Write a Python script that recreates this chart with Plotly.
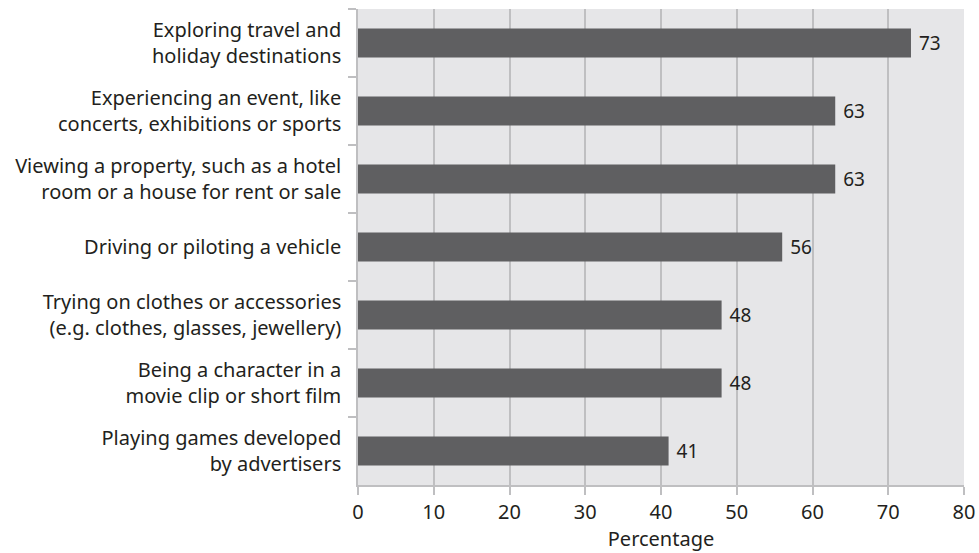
import plotly.graph_objects as go

categories = [
    "Exploring travel and<br>holiday destinations",
    "Experiencing an event, like<br>concerts, exhibitions or sports",
    "Viewing a property, such as a hotel<br>room or a house for rent or sale",
    "Driving or piloting a vehicle",
    "Trying on clothes or accessories<br>(e.g. clothes, glasses, jewellery)",
    "Being a character in a<br>movie clip or short film",
    "Playing games developed<br>by advertisers",
]
values = [73, 63, 63, 56, 48, 48, 41]
x_ticks = [0, 10, 20, 30, 40, 50, 60, 70, 80]

fig = go.Figure()
fig.add_trace(go.Bar(
    x=values,
    y=categories,
    orientation='h',
    marker=dict(color='#5f5f61', line=dict(width=0)),
    width=0.43,
    text=values,
    texttemplate=' %{x}',
    textposition='outside',
    textfont=dict(size=19, color='#231f20'),
    cliponaxis=False,
))

fig.update_layout(
    width=979, height=553,
    paper_bgcolor='white',
    plot_bgcolor='#e6e6e8',
    font=dict(family='Noto Sans, sans-serif', size=18, color='#231f20'),
    margin=dict(l=358, r=15, t=9, b=68),
    showlegend=False,
)
fig.update_xaxes(
    range=[0, 80],
    tickvals=x_ticks,
    tickfont=dict(size=20),
    automargin=False,
    ticklabeloverflow='allow',
    showgrid=True, gridcolor='#bfbfc1', gridwidth=1.5,
    showline=True, linecolor='#bfbfc1', linewidth=1.5,
    ticks='outside', ticklen=8, tickcolor='#bfbfc1', tickwidth=1.5,
    zeroline=False,
    title=dict(text='Percentage', font=dict(size=20), standoff=8),
)
fig.update_yaxes(
    autorange='reversed',
    type='category',
    tickson='boundaries',
    tickfont=dict(size=20),
    automargin=False,
    ticks='outside', ticklen=8, tickcolor='#bfbfc1', tickwidth=1.5,
    showline=True, linecolor='#bfbfc1', linewidth=1.5,
    showgrid=False,
    ticklabelstandoff=11,
)

# drop the default 8px page margin so the figure fills the window exactly
fig.write_html("out.html",
               config={'displayModeBar': False},
               post_script="document.body.style.margin='0';"
                           "document.body.style.overflow='hidden';")
